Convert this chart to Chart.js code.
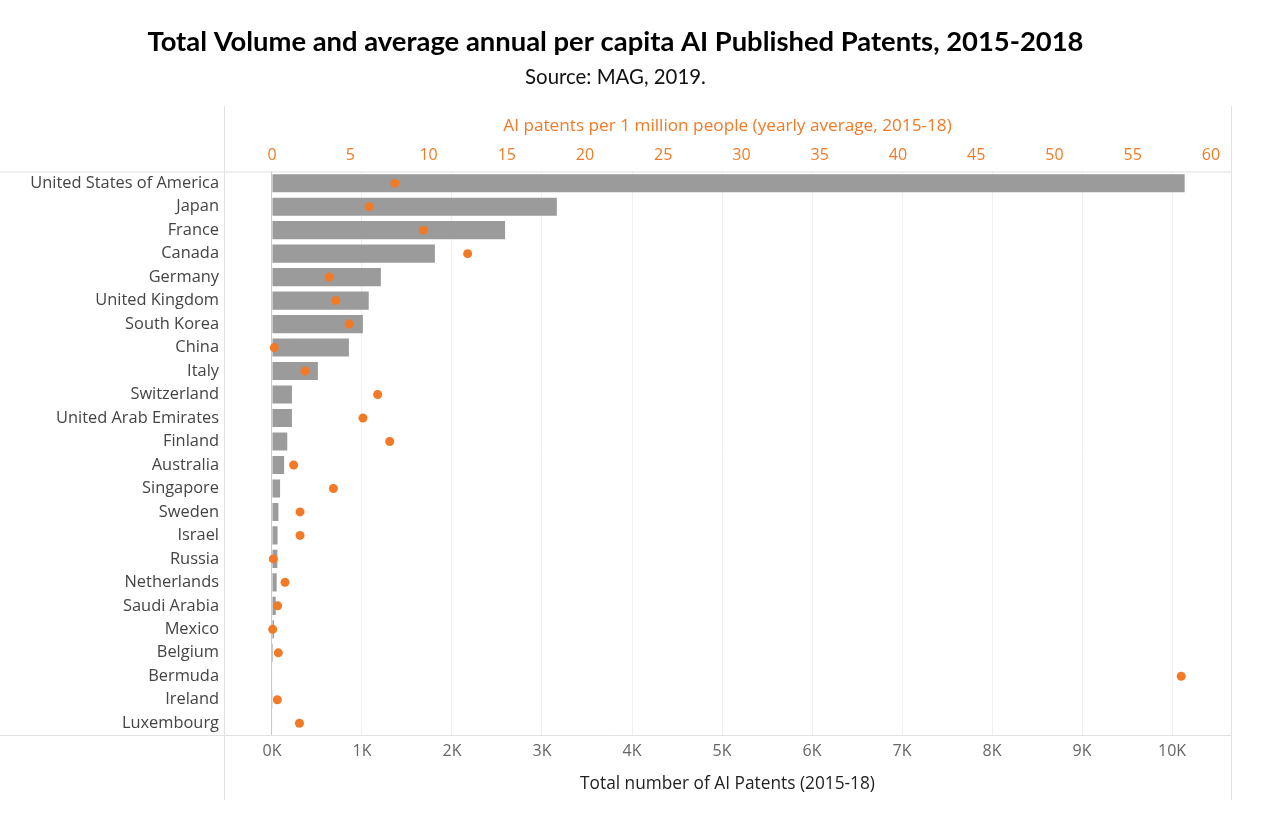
<!DOCTYPE html>
<html>
<head>
<meta charset="utf-8">
<script src="https://cdn.jsdelivr.net/npm/chart.js@4"></script>
<style>
  html, body { margin: 0; padding: 0; background: #fff; }
  #wrap { width: 1280px; height: 831px; }
</style>
</head>
<body>
<div id="wrap"><canvas id="chart_patents"></canvas></div>
<script>
const countries = ["United States of America", "Japan", "France", "Canada", "Germany",
  "United Kingdom", "South Korea", "China", "Italy", "Switzerland", "United Arab Emirates",
  "Finland", "Australia", "Singapore", "Sweden", "Israel", "Russia", "Netherlands",
  "Saudi Arabia", "Mexico", "Belgium", "Bermuda", "Ireland", "Luxembourg"];

// total number of AI patents 2015-18
const totalPatents = [10140, 3165, 2590, 1810, 1210, 1075, 1010, 855, 510, 222, 222, 170,
  135, 90, 72, 62, 60, 52, 42, 22, 12, 6, 8, 6];

// AI patents per 1 million people, yearly average
const perMillion = [7.85, 6.2, 9.68, 12.5, 3.64, 4.07, 4.93, 0.14, 2.1, 6.75, 5.81, 7.52,
  1.38, 3.92, 1.79, 1.79, 0.08, 0.83, 0.36, 0.04, 0.4, 58.1, 0.34, 1.75];

const totalTicks = [0, 1000, 2000, 3000, 4000, 5000, 6000, 7000, 8000, 9000, 10000];
const perMillionTicks = [0, 5, 10, 15, 20, 25, 30, 35, 40, 45, 50, 55, 60];

const orange = "#F27A26";
const gray = "#9b9b9b";
const axisFont = "'Open Sans'";

// frame lines like the tableau sheet
const framePlugin = {
  id: "frame",
  afterDraw(chart) {
    const ctx = chart.ctx;
    const a = chart.chartArea;
    ctx.save();
    ctx.strokeStyle = "#e2e2e2";
    ctx.lineWidth = 1;
    ctx.beginPath();
    ctx.moveTo(0, a.top + 0.5); ctx.lineTo(a.right, a.top + 0.5);
    ctx.moveTo(0, a.bottom + 0.5); ctx.lineTo(a.right, a.bottom + 0.5);
    ctx.moveTo(a.left + 0.5, 106); ctx.lineTo(a.left + 0.5, 800);
    ctx.moveTo(a.right + 0.5, 106); ctx.lineTo(a.right + 0.5, 800);
    ctx.stroke();
    ctx.restore();
  }
};

const chart_patents = new Chart("chart_patents", {
  type: "bar",
  data: {
    labels: countries,
    datasets: [{
      type: "line",
      indexAxis: "y",
      data: perMillion,
      xAxisID: "x2",
      yAxisID: "y",
      showLine: false,
      pointRadius: 4.5,
      pointBackgroundColor: orange,
      pointBorderWidth: 0,
      borderColor: orange
    },
    {
      data: totalPatents,
      xAxisID: "x",
      yAxisID: "y",
      backgroundColor: gray,
      barPercentage: 0.77,
      categoryPercentage: 1
    }]
  },
  plugins: [framePlugin],
  options: {
    indexAxis: "y",
    responsive: true,
    maintainAspectRatio: false,
    animation: false,
    layout: { padding: { left: 0, right: 49, top: 0, bottom: 0 } },
    plugins: {
      legend: { display: false },
      tooltip: { enabled: false },
      title: {
        display: true,
        text: "Total Volume and average annual per capita AI Published Patents, 2015-2018",
        color: "#000",
        font: { family: "Lato", size: 27.4, weight: "bold", lineHeight: 1.2 },
        padding: { top: 25.5, bottom: 5 }
      },
      subtitle: {
        display: true,
        text: "Source: MAG, 2019.",
        color: "#111",
        font: { family: "Lato", size: 20.4, lineHeight: 1.2 },
        padding: { top: 2, bottom: 6 }
      }
    },
    scales: {
      y: {
        type: "category",
        position: "left",
        grid: { display: false, drawTicks: false },
        border: { display: false },
        ticks: { color: "#444", padding: 5, font: { family: axisFont, size: 16.4 } },
        afterFit(scale) { scale.width = 224; }
      },
      x: {
        type: "linear",
        position: "bottom",
        min: -533,
        max: 10655,
        afterBuildTicks(scale) { scale.ticks = totalTicks.map(v => ({ value: v })); },
        afterFit(scale) { scale.height = 96; },
        grid: {
          color: (c) => c.tick && c.tick.value === 0 ? "#c9c9c9" : "#efefef",
          drawTicks: false
        },
        border: { display: false },
        ticks: {
          color: "#666",
          padding: 7,
          font: { family: axisFont, size: 16 },
          callback: (v) => (v / 1000) + "K"
        },
        title: {
          display: true,
          text: "Total number of AI Patents (2015-18)",
          color: "#222",
          font: { family: axisFont, size: 17.3 },
          padding: { top: 0, bottom: 37 }
        }
      },
      x2: {
        type: "linear",
        position: "top",
        min: -3.07,
        max: 61.28,
        afterBuildTicks(scale) { scale.ticks = perMillionTicks.map(v => ({ value: v })); },
        afterFit(scale) { scale.height = 75.6; },
        grid: { display: false, drawTicks: false },
        border: { display: false },
        ticks: { color: orange, padding: 6, font: { family: axisFont, size: 16 } },
        title: {
          display: true,
          text: "AI patents per 1 million people (yearly average, 2015-18)",
          color: orange,
          font: { family: axisFont, size: 17.2 },
          padding: { top: 20, bottom: 0 }
        }
      }
    }
  }
});
</script>
</body>
</html>
